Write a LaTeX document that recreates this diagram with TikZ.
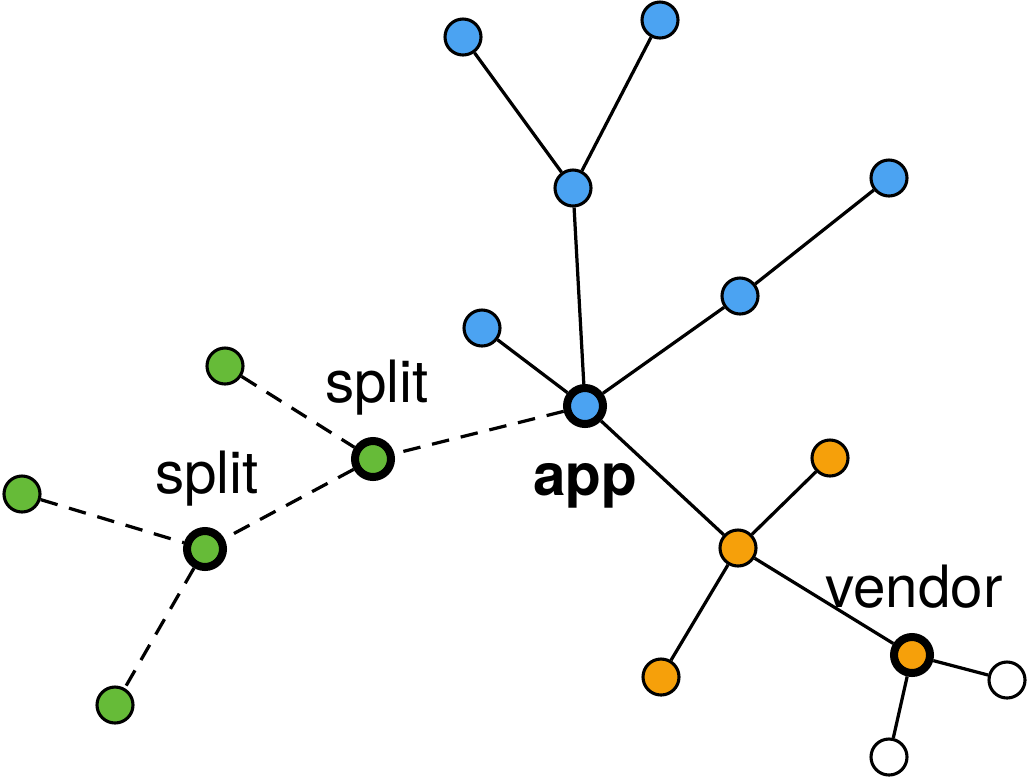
\documentclass[tikz,border=0pt]{standalone}
\usepackage{fontspec}
\setmainfont{TeX Gyre Heros}
\usepackage{xcolor}
\usepackage{tikz}
\usetikzlibrary{positioning}
\definecolor{appblue}{RGB}{75,163,242}
\definecolor{splitgreen}{RGB}{102,187,56}
\definecolor{vendororange}{RGB}{246,160,10}

\begin{document}
\begin{tikzpicture}[x=0.025cm, y=-0.025cm,
  pkg/.style={circle, draw=black, line width=2.2pt, minimum size=25.6pt, inner sep=0pt},
  rootpkg/.style={pkg, line width=5.7pt},
  dep/.style={line width=2.3pt},
  weakdep/.style={dep, dash pattern=on 12.5pt off 8.5pt},
  lbl/.style={font=\fontsize{41.5}{48}\selectfont}]
\useasboundingbox (0,0) rectangle (1029,779);

% app tree
\node (app) [rootpkg, fill=appblue] at (585,406) {};
\node (b1) [pkg, fill=appblue] at (463,37) {};
\node (b2) [pkg, fill=appblue] at (660,20) {};
\node (b3) [pkg, fill=appblue] at (573,188) {};
\node (b4) [pkg, fill=appblue] at (889,178) {};
\node (b5) [pkg, fill=appblue] at (740,296) {};
\node (b6) [pkg, fill=appblue] at (482,328) {};

% split packages
\node (split1) [rootpkg, fill=splitgreen] at (373,459) {};
\node (split2) [rootpkg, fill=splitgreen] at (205,549) {};
\node (g1) [pkg, fill=splitgreen] at (225,366) {};
\node (g2) [pkg, fill=splitgreen] at (22,494) {};
\node (g3) [pkg, fill=splitgreen] at (115,705) {};

% vendor
\node (o1) [pkg, fill=vendororange] at (830,458) {};
\node (o2) [pkg, fill=vendororange] at (738,548) {};
\node (o3) [pkg, fill=vendororange] at (661,677) {};
\node (vendor) [rootpkg, fill=vendororange] at (912,655) {};
\node (w1) [pkg, fill=white] at (1007,680) {};
\node (w2) [pkg, fill=white] at (889,757) {};

% labels
\node (appl) [lbl, font=\fontsize{41.5}{48}\selectfont\bfseries] at (585,486) {app};
\node (split1l) [lbl] at (377,388) {split};
\node (split2l) [lbl] at (207,479) {split};
\node (vendorl) [lbl] at (914,587) {vendor};

\draw[dep] (b1) -- (b3);
\draw[dep] (b2) -- (b3);
\draw[dep] (b3) -- (app);
\draw[dep] (b4) -- (b5);
\draw[dep] (b5) -- (app);
\draw[dep] (b6) -- (app);
\draw[dep] (app) -- (o2);
\draw[dep] (o1) -- (o2);
\draw[dep] (o2) -- (o3);
\draw[dep] (o2) -- (vendor);
\draw[dep] (vendor) -- (w1);
\draw[dep] (vendor) -- (w2);

\draw[weakdep] (app) -- (split1);
\draw[weakdep] (g1) -- (split1);
\draw[weakdep] (split1) -- (split2);
\draw[weakdep] (g2) -- (split2);
\draw[weakdep] (split2) -- (g3);
\end{tikzpicture}
\end{document}
